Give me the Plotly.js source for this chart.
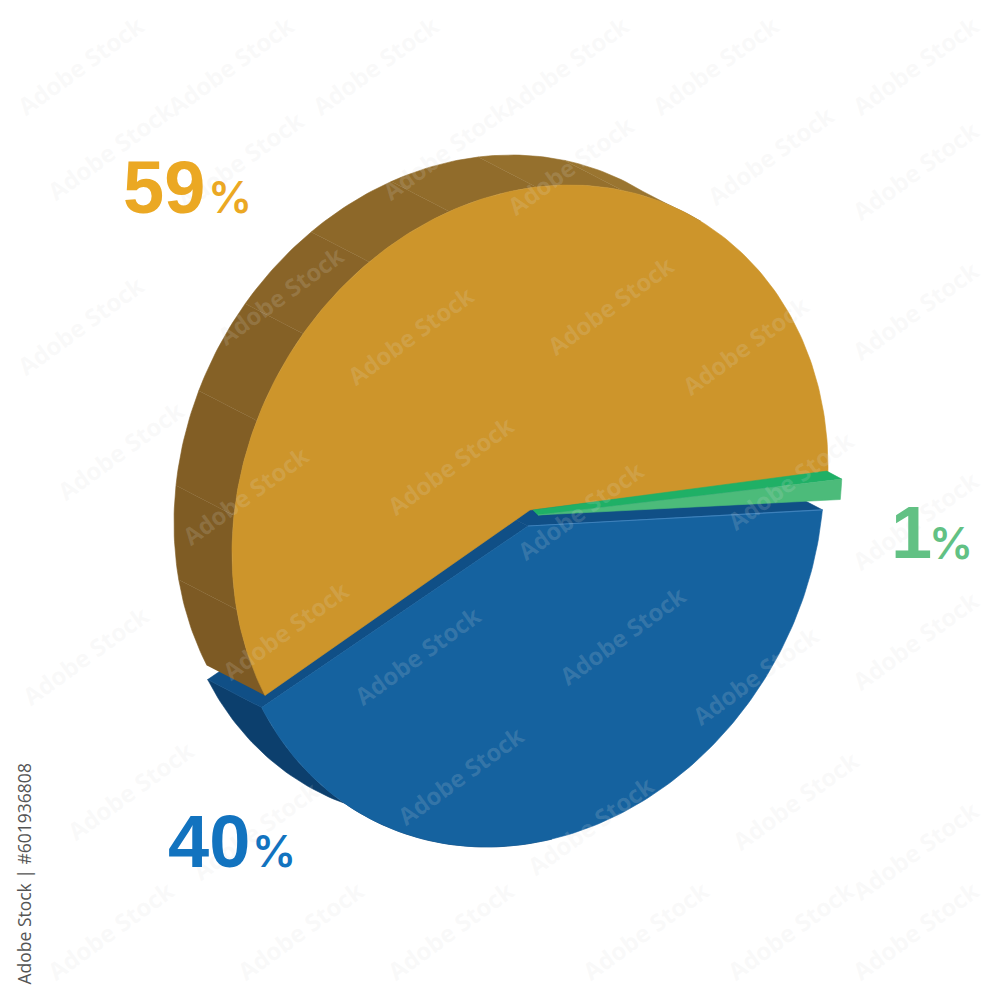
<!DOCTYPE html>
<html><head><meta charset="utf-8">
<script src="https://cdn.plot.ly/plotly-3.0.1.min.js"></script>
<style>html,body{margin:0;padding:0;background:#fff}#c{width:1000px;height:1000px}</style>
</head><body><div id="c"></div>
<script>
const shareLabels = ["59", "40", "1"];
const shareValues = [59, 40, 1];
const labelColors = ["#eba823", "#1273bf", "#62c184"];
const faceColors  = ["#cd952b", "#15629f", "#4cbb7a"];
const wallColors  = ["#8a6528", "#104f86", "#1fb066"];
const sideBandColors = ["#7d5a24","#7f5c24","#825e25","#856126","#896428","#8d6829","#916c2b","#95702d","#9a7530"];
const creditText = "Adobe Stock | #601936808";
const watermarkText = "Adobe Stock";

const DEG = Math.PI/180, PHI = -7.6*DEG, DEPTH = [-58,-30], DEPTH_B = [-54,-28];
const goldGeo = {cx:530, cy:510, a:298, b:325, ax:530, ay:510};
const blueGeo = {cx:526, cy:519, a:298, b:328, ax:528, ay:526};
const greenGeo= {cx:544, cy:508, a:298, b:325, ax:538, ay:515};
const pt = (g,deg,off=[0,0]) => [g.cx+g.a*Math.cos(deg*DEG)+off[0], g.cy+g.b*Math.sin(deg*DEG+PHI)+off[1]];
const arc = (g,d0,d1,off) => { const n=Math.max(2,Math.ceil(Math.abs(d1-d0))), r=[];
  for(let i=0;i<=n;i++) r.push(pt(g,d0+(d1-d0)*i/n,off)); return r; };
const poly = (pts,color) => ({type:'scatter',mode:'lines',x:pts.map(p=>p[0]),y:pts.map(p=>p[1]),
  fill:'toself',fillcolor:color,line:{color:color,width:0.6},hoverinfo:'skip',showlegend:false});
const sweep = (g,d0,d1,off,color) => poly(arc(g,d0,d1).concat(arc(g,d1,d0,off)),color);

const span = shareValues.map(v=>v*3.6);
const goldStart = 1, goldEnd = goldStart - span[0] + 4.2;
const blueStart = 6, blueEnd = blueStart + span[1] + 2.5;
const greenStart = 2.5, greenEnd = greenStart + span[2];

const traces = [];
// blue outer side and walls (behind gold)
traces.push(sweep(blueGeo, 85, blueEnd, DEPTH_B, "#0c3f6d"));
const bA=[blueGeo.ax,blueGeo.ay], bL=pt(blueGeo,blueEnd), bR=pt(blueGeo,blueStart);
traces.push(poly([bA,bL,[bL[0]+DEPTH_B[0],bL[1]+DEPTH_B[1]],[bA[0]+DEPTH_B[0],bA[1]+DEPTH_B[1]],bA],wallColors[1]));
traces.push(poly([bA,bR,[bR[0]+DEPTH_B[0],bR[1]+DEPTH_B[1]],[bA[0]+DEPTH_B[0],bA[1]+DEPTH_B[1]],bA],wallColors[1]));
// gold faceted side: from the lower-left corner over the top
const sideEnd = -55, bandSpan = (sideEnd-goldEnd)/sideBandColors.length;
sideBandColors.forEach((c,i)=>{
  traces.push(sweep(goldGeo,goldEnd+i*bandSpan,goldEnd+(i+1)*bandSpan,DEPTH,c));
});
// gold face
traces.push(poly([[goldGeo.ax,goldGeo.ay]].concat(arc(goldGeo,goldStart,goldEnd)).concat([[goldGeo.ax,goldGeo.ay]]),faceColors[0]));
// green wall + face
const gT=pt(greenGeo,greenStart), gB=pt(greenGeo,greenEnd), gA=[greenGeo.ax,greenGeo.ay];
traces.push(poly([gA,gT,[gT[0]-15,gT[1]-8],[goldGeo.ax+3,goldGeo.ay],gA],wallColors[2]));
traces.push(poly([gA].concat(arc(greenGeo,greenStart,greenEnd)).concat([gA]),faceColors[2]));
// blue face
traces.push(poly([bA].concat(arc(blueGeo,blueStart,blueEnd)).concat([bA]),faceColors[1]));
traces.push({type:'scatter',mode:'lines',x:[bA[0],bR[0]],y:[bA[1],bR[1]],line:{color:"#3d80ba",width:1.2},hoverinfo:'skip',showlegend:false});

const wmX=[80,230,375,565,715,915, 110,240,445,570,770,915, 80,280,410,610,745,915, 120,245,450,580,790,915, 85,285,417,622,755,915, 130,255,460,590,795,915, 110,300,450,645,790,915];
const wmY=[65,65,65,65,65,65, 150,160,150,165,155,170, 325,295,335,305,345,310, 450,495,465,510,480,520, 655,630,655,635,675,640, 790,830,775,825,800,850, 930,930,930,930,930,930];
const annotations = wmX.map((x,i)=>({x:x,y:wmY[i],xref:'x',yref:'y',text:watermarkText,showarrow:false,textangle:-36,
  font:{family:'"Open Sans",sans-serif',size:24,color:'rgba(222,222,222,0.16)',weight:700}}));
const numPos=[[121,187],[166,841],[889,532]];
const pctPos=[[206,197],[250,851],[927,543]];
shareLabels.forEach((s,i)=>{
  annotations.push({x:numPos[i][0],y:numPos[i][1],xref:'x',yref:'y',xanchor:'left',yanchor:'middle',showarrow:false,text:'<b>'+s+'</b>',
    font:{family:'"Liberation Sans",Arial,sans-serif',size:74,color:labelColors[i]}});
  annotations.push({x:pctPos[i][0],y:pctPos[i][1],xref:'x',yref:'y',xanchor:'left',yanchor:'middle',showarrow:false,text:'%',
    font:{family:'Inter,sans-serif',size:44,color:labelColors[i],weight:600}});
});
annotations.push({x:23,y:762,xref:'x',yref:'y',xanchor:'center',yanchor:'top',showarrow:false,textangle:-90,text:creditText,
  font:{family:'"Open Sans",sans-serif',size:17.5,color:'#555555'}});

const hidden={range:[0,1000],visible:false,fixedrange:true};
Plotly.newPlot('c',traces,{width:1000,height:1000,margin:{l:0,r:0,t:0,b:0},paper_bgcolor:'#fff',plot_bgcolor:'#fff',
  xaxis:hidden,yaxis:Object.assign({},hidden,{range:[1000,0]}),annotations:annotations,showlegend:false},{displayModeBar:false,staticPlot:true});
</script></body></html>
